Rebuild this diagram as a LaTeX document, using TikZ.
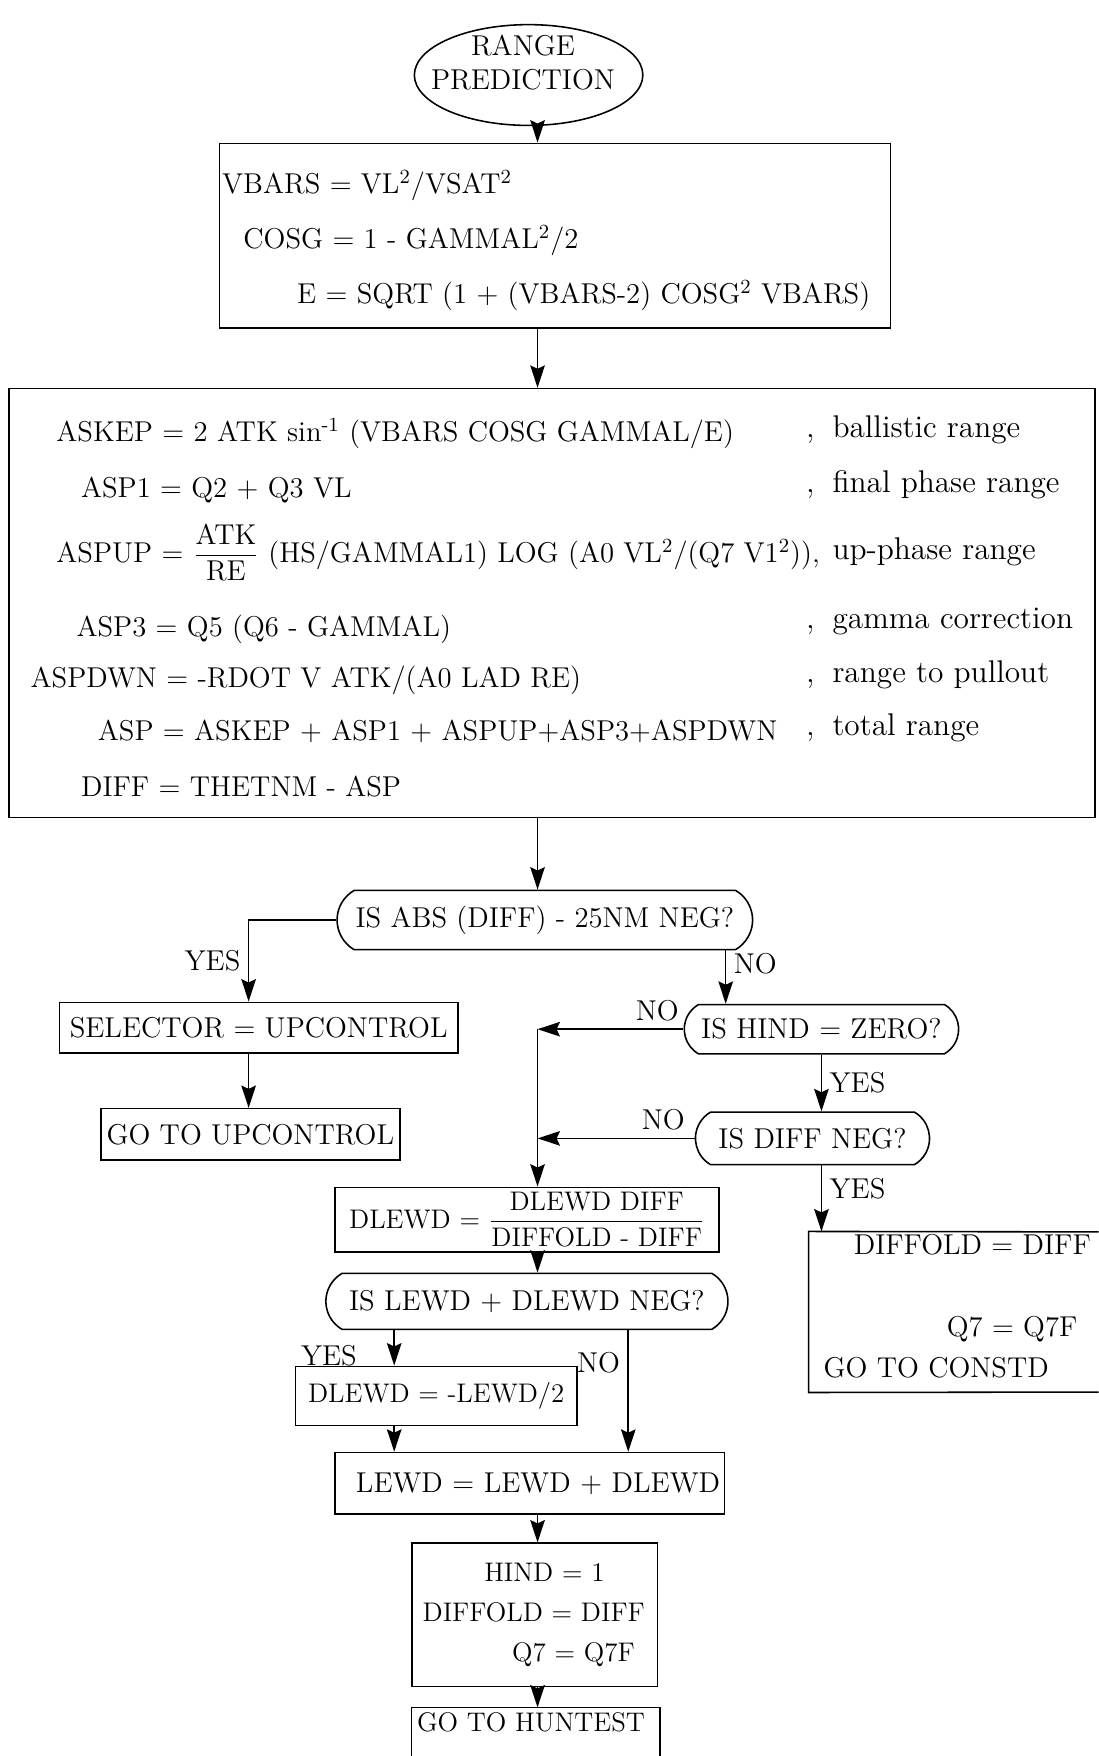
\documentclass[tikz,border=0pt]{standalone}
\usepackage{amsmath}
\usepackage{tikz}
\usetikzlibrary{positioning}
\usetikzlibrary{shapes.geometric, shapes.misc}
\usetikzlibrary{arrows.meta}

\tikzset{
  box/.style={draw, line width=0.7pt, inner sep=2pt},
  ask/.style={draw, line width=0.7pt, rounded rectangle, rounded rectangle arc length=120, inner sep=2pt},
  txt/.style={anchor=base west, inner sep=0pt},
  note/.style={txt, font=\fontsize{14}{16}\selectfont},
  small/.style={font=\fontsize{12}{14}\selectfont},
  flow/.style={->, line width=0.7pt},
  >={Stealth[length=10pt, width=6.5pt, inset=1.5pt]}
}

\begin{document}
\begin{tikzpicture}[x=0.5pt, y=-0.5pt, font=\fontsize{12.8}{15}\selectfont]
            \useasboundingbox (0,0) rectangle (981,1568);
            \coordinate (spine) at (480,0);
            \coordinate (yesx) at (222,0);
            \coordinate (nox) at (648,0);
            \coordinate (yes2) at (352,0);
            \coordinate (no2) at (561,0);
            % start
            \node[draw, ellipse, line width=0.7pt, minimum width=102pt, minimum height=45pt] (start) at (472,67) {};
            \node[align=center, inner sep=0pt] (starttxt) at (467,56) {RANGE\\PREDICTION};
            % first box
            \node[box, minimum width=299.5pt, minimum height=82.5pt] (box1) at (495.5,210.5) {};
            \node[txt] (vbars) at (198,173) {VBARS = VL\textsuperscript{2}/VSAT\textsuperscript{2}};
            \node[txt] (cosg) at (217,222) {COSG = 1 - GAMMAL\textsuperscript{2}/2};
            \node[txt] (ecc) at (265,271) {E = SQRT (1 + (VBARS-2) COSG\textsuperscript{2} VBARS)};
            % range box
            \node[box, minimum width=485pt, minimum height=191.5pt] (box2) at (493,538.5) {};
            \node[txt] (askep) at (50,394) {ASKEP = 2 ATK sin\textsuperscript{-1} (VBARS COSG GAMMAL/E)};
            \node[txt] (asp1) at (72,444) {ASP1 = Q2 + Q3 VL};
            \node[txt] (aspup) at (50,502) {ASPUP = $\dfrac{\mbox{ATK}}{\mbox{RE}}$ (HS/GAMMAL1) LOG (A0 VL\textsuperscript{2}/(Q7 V1\textsuperscript{2})),};
            \node[txt] (asp3) at (68,568) {ASP3 = Q5 (Q6 - GAMMAL)};
            \node[txt] (aspdwn) at (27,614) {ASPDWN = -RDOT V ATK/(A0 LAD RE)};
            \node[txt] (asp) at (87,661) {ASP = ASKEP + ASP1 + ASPUP+ASP3+ASPDWN};
            \node[txt] (diff) at (72,711) {DIFF = THETNM - ASP};
            \node[note] (ballistic) at (743,391) {\llap{,\hspace{8pt}}ballistic range};
            \node[note] (final) at (743,440) {\llap{,\hspace{8pt}}final phase range};
            \node[note] (upphase) at (743,500) {up-phase range};
            \node[note] (gamma) at (743,561) {\llap{,\hspace{8pt}}gamma correction};
            \node[note] (pullout) at (743,609) {\llap{,\hspace{8pt}}range to pullout};
            \node[note] (total) at (743,657) {\llap{,\hspace{8pt}}total range};
            % decisions
            \node[ask, minimum width=189.5pt, minimum height=26.5pt] (dec1) at (486.5,821.5) {IS ABS (DIFF) - 25NM NEG?};
            \node[box, minimum width=178pt, minimum height=22.5pt] (sel) at (231,917.5) {SELECTOR = UPCONTROL};
            \node[box, minimum width=133.5pt, minimum height=23pt] (upc) at (223.5,1013) {GO TO UPCONTROL};
            \node[ask, minimum width=126.5pt, minimum height=22pt] (dec2) at (733.5,919) {IS HIND = ZERO?};
            \node[ask, minimum width=108.5pt, minimum height=23.5pt] (dec3) at (725.5,1016.5) {IS DIFF NEG?};
            \node[minimum width=129pt, minimum height=71.5pt] (constd) at (851.5,1171.5) {};
            \node[txt] (dfold) at (762,1120) {DIFFOLD = DIFF};
            \node[txt] (qseven) at (845,1193) {Q7 = Q7F};
            \node[txt] (goconstd) at (735,1230) {GO TO CONSTD};
            \node[box, small, minimum width=171.5pt, minimum height=24pt] (dlewd) at (470.5,1089) {DLEWD = $\dfrac{\mbox{DLEWD DIFF}}{\mbox{DIFFOLD - DIFF}}$};
            \node[ask, minimum width=183.5pt, minimum height=25pt] (dec4) at (470.5,1162) {IS LEWD + DLEWD NEG?};
            \node[box, small, minimum width=125.5pt, minimum height=26.5pt] (half) at (389.5,1246.5) {DLEWD = -LEWD/2};
            \node[box, text width=170pt, align=right, minimum height=27.5pt] (lewd) at (473,1324.5) {LEWD = LEWD + DLEWD};
            \node[box, minimum width=109.5pt, minimum height=64pt] (hind) at (477.5,1442) {};
            \node[txt, small] (hindone) at (432,1412) {HIND = 1};
            \node[txt, small] (hfold) at (377,1448) {DIFFOLD = DIFF};
            \node[txt, small] (hqseven) at (457,1484) {Q7 = Q7F};
            \node[minimum width=110.5pt, minimum height=21.5pt] (huntest) at (478.5,1546.5) {};
            \node[txt, small] (gohun) at (372,1546) {GO TO HUNTEST};
            % open boxes
            \draw[line width=0.7pt] (981,1100) -- (constd.north west) -- (constd.south west) -- (981,1243);
            \draw[line width=0.7pt] (huntest.south west) -- (huntest.north west) -- (huntest.north east) -- (huntest.south east);
            % connectors
            \draw[flow] (start.south -| spine) -- (box1.north -| spine);
            \draw[flow] (box1.south -| spine) -- (box2.north -| spine);
            \draw[flow] (box2.south -| spine) -- (dec1.north -| spine);
            \draw[flow] (dec1.west) -| (sel.north -| yesx) node[pos=0.75, left] {YES};
            \draw[flow] (sel.south -| yesx) -- (upc.north -| yesx);
            \draw[flow] (dec1.south -| nox) -- (dec2.north -| nox) node[pos=0.25, right] {NO};
            \draw[flow] (dec2.west) -- (dec2.west -| spine) node[pos=0.18, above] {NO};
            \draw[flow] (dec2.west -| spine) -- (dlewd.north -| spine);
            \draw[flow] (dec2.south) -- (dec2.south |- dec3.north) node[midway, right] {YES};
            \draw[flow] (dec3.west) -- (dec3.west -| spine) node[pos=0.2, above] {NO};
            \draw[flow] (dec3.south -| dec2.south) -- (constd.north -| dec2.south) node[pos=0.35, right] {YES};
            \draw[flow] (dlewd.south -| spine) -- (dec4.north -| spine);
            \draw[flow] (dec4.south -| yes2) -- (half.north -| yes2) node[pos=0.72, left=13pt] {YES};
            \draw[flow] (dec4.south -| no2) -- (lewd.north -| no2) node[pos=0.27, left] {NO};
            \draw[flow] (half.south -| yes2) -- (lewd.north -| yes2);
            \draw[flow] (lewd.south -| spine) -- (hind.north -| spine);
            \draw[flow] (hind.south -| spine) -- (huntest.north -| spine);
        \end{tikzpicture}
\end{document}
